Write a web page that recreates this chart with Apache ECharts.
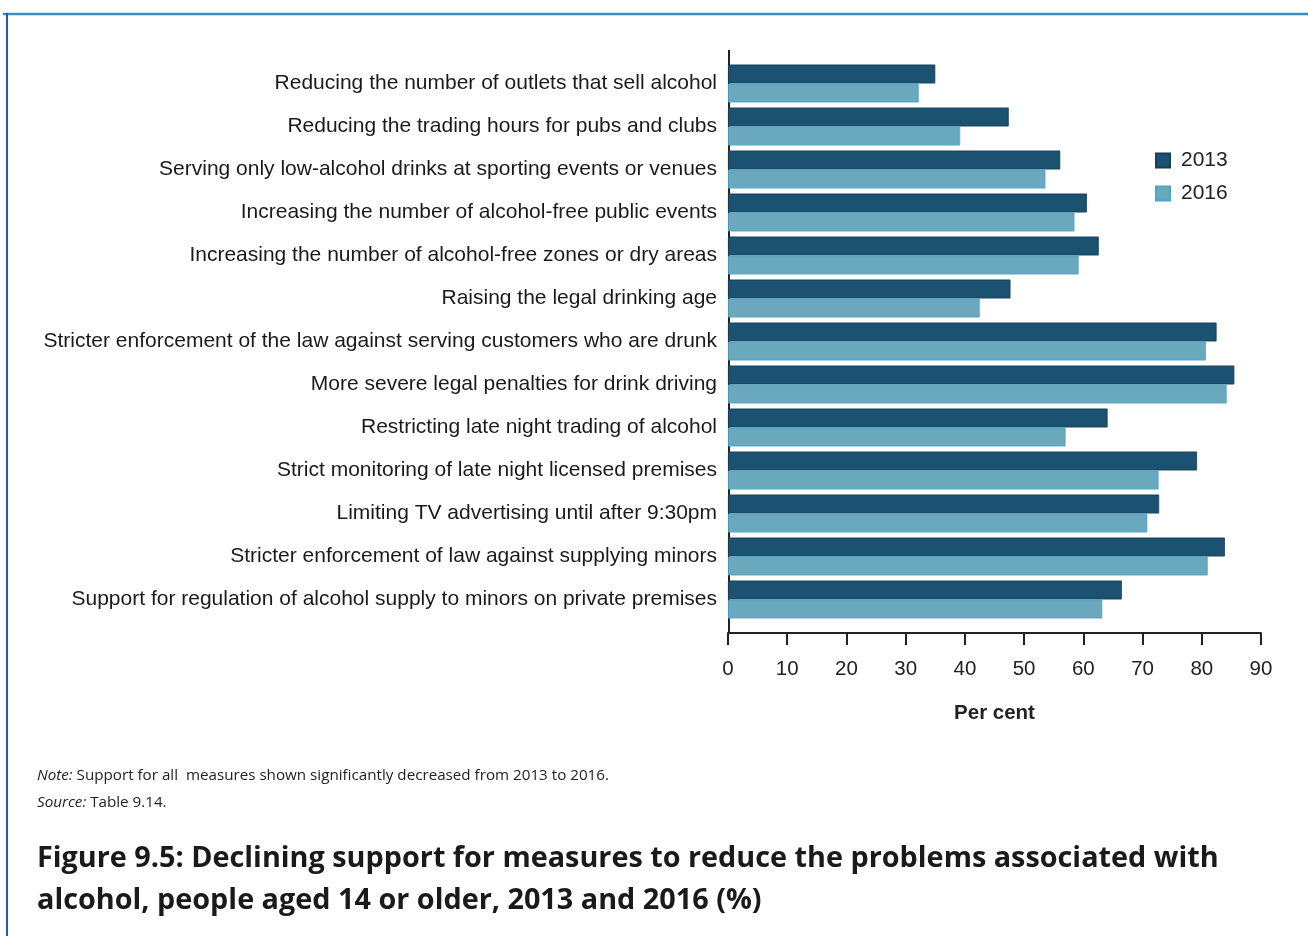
<!DOCTYPE html>
<html>
<head>
<meta charset="utf-8">
<script src="https://cdn.jsdelivr.net/npm/echarts@6/dist/echarts.min.js"></script>
<style>
html,body{margin:0;padding:0;background:#fff;}
#c{width:1308px;height:936px;}
</style>
</head>
<body>
<div id="c"></div>
<script>
const categories = [
  "Reducing the number of outlets that sell alcohol",
  "Reducing the trading hours for pubs and clubs",
  "Serving only low-alcohol drinks at sporting events or venues",
  "Increasing the number of alcohol-free public events",
  "Increasing the number of alcohol-free zones or dry areas",
  "Raising the legal drinking age",
  "Stricter enforcement of the law against serving customers who are drunk",
  "More severe legal penalties for drink driving",
  "Restricting late night trading of alcohol",
  "Strict monitoring of late night licensed premises",
  "Limiting TV advertising until after 9:30pm",
  "Stricter enforcement of law against supplying minors",
  "Support for regulation of alcohol supply to minors on private premises"
];
const values2013 = [35.0, 47.4, 56.1, 60.6, 62.6, 47.7, 82.5, 85.5, 64.1, 79.2, 72.8, 83.9, 66.5];
const values2016 = [32.2, 39.2, 53.6, 58.5, 59.2, 42.5, 80.7, 84.2, 57.0, 72.7, 70.8, 81.0, 63.2];
const xTicks = [0, 10, 20, 30, 40, 50, 60, 70, 80, 90];
const seriesNames = ["2013", "2016"];

const chart = echarts.init(document.getElementById('c'), null, {renderer: 'canvas'});
const font = "'Liberation Sans', Arial, sans-serif";
const titleFont = "'Open Sans', 'Noto Sans', sans-serif";

chart.setOption({
  animation: false,
  backgroundColor: '#ffffff',
  textStyle: {fontFamily: font},
  legend: {
    orient: 'vertical',
    left: 1150,
    top: 145,
    itemWidth: 14,
    itemHeight: 14,
    itemGap: 12,
    icon: 'rect',
    data: seriesNames,
    textStyle: {fontSize: 21, color: '#222', fontFamily: font, padding: [0, 0, 0, 6]}
  },
  grid: {left: 728, top: 62, width: 533, height: 559},
  xAxis: {
    type: 'value',
    min: xTicks[0],
    max: xTicks[xTicks.length - 1],
    interval: 10,
    offset: 12,
    axisLine: {show: true, lineStyle: {color: '#222', width: 2}},
    axisTick: {show: true, length: 12, inside: false, lineStyle: {color: '#222', width: 2}},
    axisLabel: {fontSize: 20.5, color: '#222', margin: 26, fontFamily: font},
    splitLine: {show: false},
    name: 'Per cent',
    nameLocation: 'middle',
    nameGap: 70,
    nameTextStyle: {fontSize: 20.5, fontWeight: 'bold', color: '#222', fontFamily: font}
  },
  yAxis: {
    type: 'category',
    inverse: true,
    data: categories,
    axisLine: {show: false},
    axisTick: {show: false},
    axisLabel: {fontSize: 21, color: '#1a1a1a', margin: 11, fontFamily: font, padding: [4, 0, 0, 0]}
  },
  series: [
    {
      name: seriesNames[0], type: 'bar', data: values2013,
      barWidth: 19, barGap: '0%',
      itemStyle: {color: '#1b5271', borderColor: '#163e55', borderWidth: 0.8}
    },
    {
      name: seriesNames[1], type: 'bar', data: values2016,
      barWidth: 19, barGap: '0%',
      itemStyle: {color: '#6aa8be', borderColor: '#4aa6cc', borderWidth: 0.8}
    }
  ],
  graphic: [
    {type: 'line', shape: {x1: 3, y1: 14, x2: 1308, y2: 14}, style: {stroke: '#3b8fc0', lineWidth: 2.5}},
    {type: 'line', shape: {x1: 7, y1: 13, x2: 7, y2: 936}, style: {stroke: '#2656b0', lineWidth: 2}},
    {type: 'line', shape: {x1: 729, y1: 50, x2: 729, y2: 634}, style: {stroke: '#222', lineWidth: 2}},
    {type: 'text', left: 37, top: 768, style: {
      text: '{i|Note:} Support for all  measures shown significantly decreased from 2013 to 2016.',
      rich: {i: {fontStyle: 'italic', fontSize: 15.2, fontFamily: titleFont, fill: '#222'}},
      font: "15.2px " + titleFont, fill: '#222'}},
    {type: 'text', left: 37, top: 795, style: {
      text: '{i|Source:} Table 9.14.',
      rich: {i: {fontStyle: 'italic', fontSize: 15.2, fontFamily: titleFont, fill: '#222'}},
      font: "15.2px " + titleFont, fill: '#222'}},
    {type: 'text', left: 37, top: 838, style: {
      text: 'Figure 9.5: Declining support for measures to reduce the problems associated with\nalcohol, people aged 14 or older, 2013 and 2016 (%)',
      font: "bold 28.8px " + titleFont, fill: '#1a1a1a', lineHeight: 42}}
  ]
});
</script>
</body>
</html>
